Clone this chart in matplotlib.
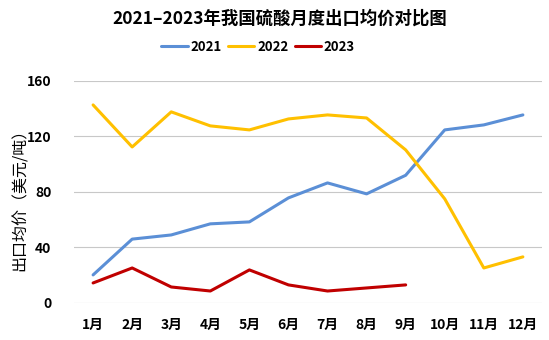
import matplotlib
matplotlib.use("Agg")
import matplotlib.pyplot as plt

plt.rcParams['font.family'] = ['Noto Sans CJK SC', 'DejaVu Sans']

months = ["1月", "2月", "3月", "4月", "5月", "6月", "7月", "8月", "9月", "10月", "11月", "12月"]
y2021 = [20.2, 46, 49, 57, 58.4, 75.7, 86.5, 78.6, 92, 124.7, 128.3, 135.5]
y2022 = [142.7, 112.4, 137.7, 127.6, 124.7, 132.6, 135.5, 133.3, 110.3, 75, 25.2, 33.2]
y2023 = [14.4, 25.2, 11.5, 8.6, 23.8, 13, 8.6, 10.8, 13]
yticks = [0, 40, 80, 120, 160]

fig = plt.figure(figsize=(5.49, 3.4), dpi=100)
ax = fig.add_axes([0.134, 0.109, 0.854, 0.653])

x = list(range(len(months)))
ax.plot(x, y2021, color="#5B8FD6", lw=2.2, label="2021", solid_capstyle="round")
ax.plot(x, y2022, color="#FFC000", lw=2.2, label="2022", solid_capstyle="round")
ax.plot(x[:len(y2023)], y2023, color="#C00000", lw=2.2, label="2023", solid_capstyle="round")

ax.set_xlim(-0.5, len(months) - 0.5)
ax.set_ylim(0, 160)
ax.set_yticks(yticks)
ax.set_yticklabels([str(v) for v in yticks], fontsize=10, fontweight="bold")
ax.set_xticks(x)
ax.set_xticklabels(months, fontsize=10, fontweight="bold")
ax.tick_params(axis="both", length=0)
ax.tick_params(axis="x", pad=11)
ax.tick_params(axis="y", pad=16)
for s in ax.spines.values():
    s.set_visible(False)
ax.grid(axis="y", color="#C8C8C8", lw=0.8)
ax.set_axisbelow(True)

fig.text(20 / 549, 1 - 196 / 340, "出口均价（美元/吨）", rotation=90, ha="center", va="center",
         fontsize=11.5)

fig.text(0.51, 0.945, "2021–2023年我国硫酸月度出口均价对比图", ha="center", va="center",
         fontsize=12.5, fontweight="bold")
fig.legend(loc="center", bbox_to_anchor=(0.47, 0.862), ncol=3, frameon=False,
           prop={"size": 9.5, "weight": "bold"}, handlelength=2.0, columnspacing=0.5,
           handletextpad=0.2)

fig.savefig("out.png", dpi=100)
